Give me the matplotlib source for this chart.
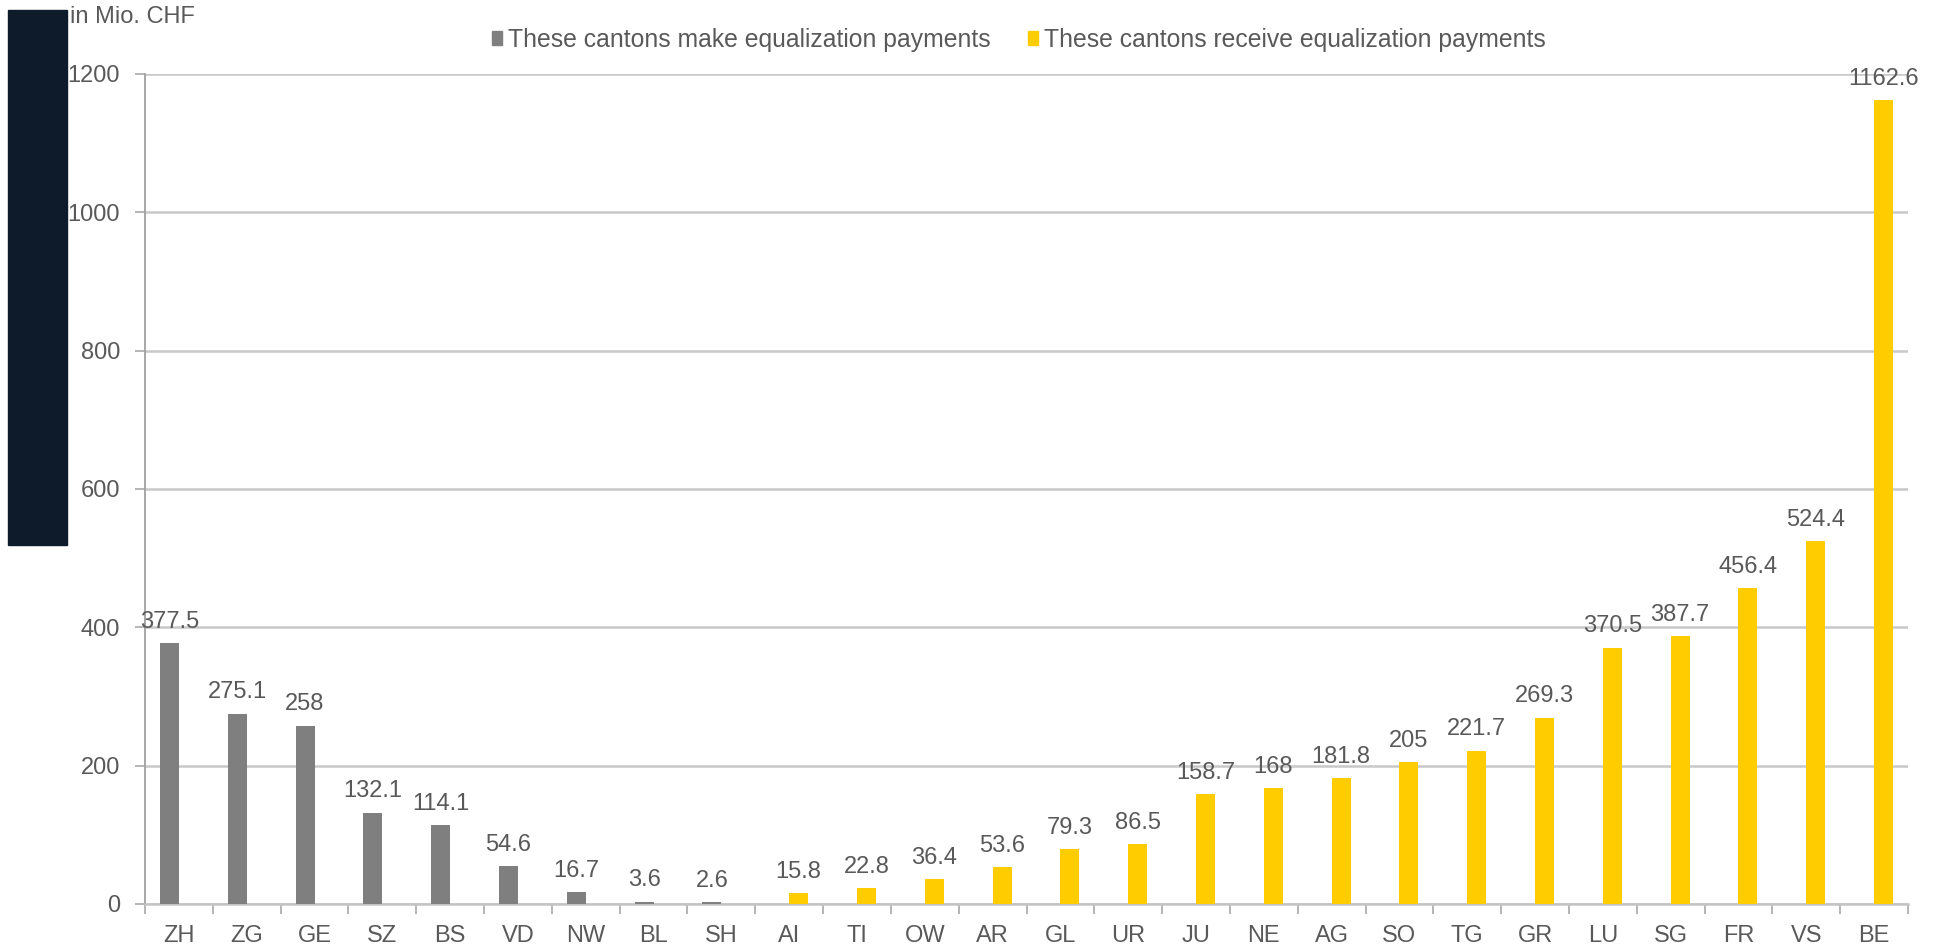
import numpy as np
import matplotlib.pyplot as plt
from matplotlib.patches import Rectangle, Patch

# cantons and amounts (Mio. CHF)
payers = ['ZH', 'ZG', 'GE', 'SZ', 'BS', 'VD', 'NW', 'BL', 'SH']
payer_vals = [377.5, 275.1, 258, 132.1, 114.1, 54.6, 16.7, 3.6, 2.6]
receivers = ['AI', 'TI', 'OW', 'AR', 'GL', 'UR', 'JU', 'NE', 'AG', 'SO',
             'TG', 'GR', 'LU', 'SG', 'FR', 'VS', 'BE']
receiver_vals = [15.8, 22.8, 36.4, 53.6, 79.3, 86.5, 158.7, 168, 181.8, 205,
                 221.7, 269.3, 370.5, 387.7, 456.4, 524.4, 1162.6]
yticks = [0, 200, 400, 600, 800, 1000, 1200]

grey = '#7f7f7f'
yellow = '#ffcc00'
txt = '#595959'
fs = 17

plt.rcParams['font.family'] = ['Liberation Sans', 'DejaVu Sans']

fig = plt.figure(figsize=(19.4, 9.48), dpi=100)
ax = fig.add_axes([145/1940, 1 - 904/948, (1908-145)/1940, (904-74)/948])

labels = payers + receivers
n = len(labels)
x = np.arange(n)
w = 0.28
# clustered bars like the spreadsheet: payers sit left, receivers right
xp = x[:len(payers)]
xr = x[len(payers):]
ax.bar(xp - w/2, payer_vals, width=w, color=grey, zorder=3)
ax.bar(xr + w/2, receiver_vals, width=w, color=yellow, zorder=3)

for xi, v in zip(list(xp - w/2) + list(xr + w/2), payer_vals + receiver_vals):
    ax.annotate('{:g}'.format(v), (xi, v), xytext=(0, 11), textcoords='offset points',
                ha='center', va='baseline', fontsize=fs, color=txt, zorder=4)

ax.set_xlim(-0.5, n - 0.5)
ax.set_ylim(0, 1200)
ax.set_yticks(yticks)
ax.yaxis.grid(True, color='#c8c8c8', linewidth=1.8, zorder=0)
ax.set_xticks(x)
ax.set_xticklabels(labels)
ax.set_xticks(np.arange(-0.5, n), minor=True)
ax.tick_params(axis='x', which='major', length=0, pad=15, labelsize=fs, labelcolor=txt)
ax.tick_params(axis='x', which='minor', length=7, color='#b0b0b0', width=1.3)
ax.tick_params(axis='y', length=7, color='#b0b0b0', width=1.3, pad=11, labelsize=fs, labelcolor=txt)

for s in ['top', 'right']:
    ax.spines[s].set_visible(False)
ax.spines['left'].set_color('#a0a0a0')
ax.spines['left'].set_linewidth(1.3)
ax.spines['bottom'].set_color('#c4c4c4')
ax.spines['bottom'].set_linewidth(1.8)

# dark block on the left
fig.patches.append(Rectangle((8/1940, 1 - 545/948), 59/1940, 535/948,
                             transform=fig.transFigure, color='#0d1b2a'))
fig.text(70/1940, 1 - 17/948, 'in Mio. CHF', fontsize=fs, color=txt, va='center')

handles = [Patch(color=grey), Patch(color=yellow)]
fig.legend(handles, ['These cantons make equalization payments',
                     'These cantons receive equalization payments'],
           loc='center', bbox_to_anchor=(1019/1940, 1 - 40/948), ncol=2,
           frameon=False, fontsize=17.8, handlelength=0.4, handleheight=0.5,
           handletextpad=0.25, columnspacing=1.5, labelcolor=txt,
           borderpad=0, borderaxespad=0)

fig.savefig('out.png', dpi=100)
